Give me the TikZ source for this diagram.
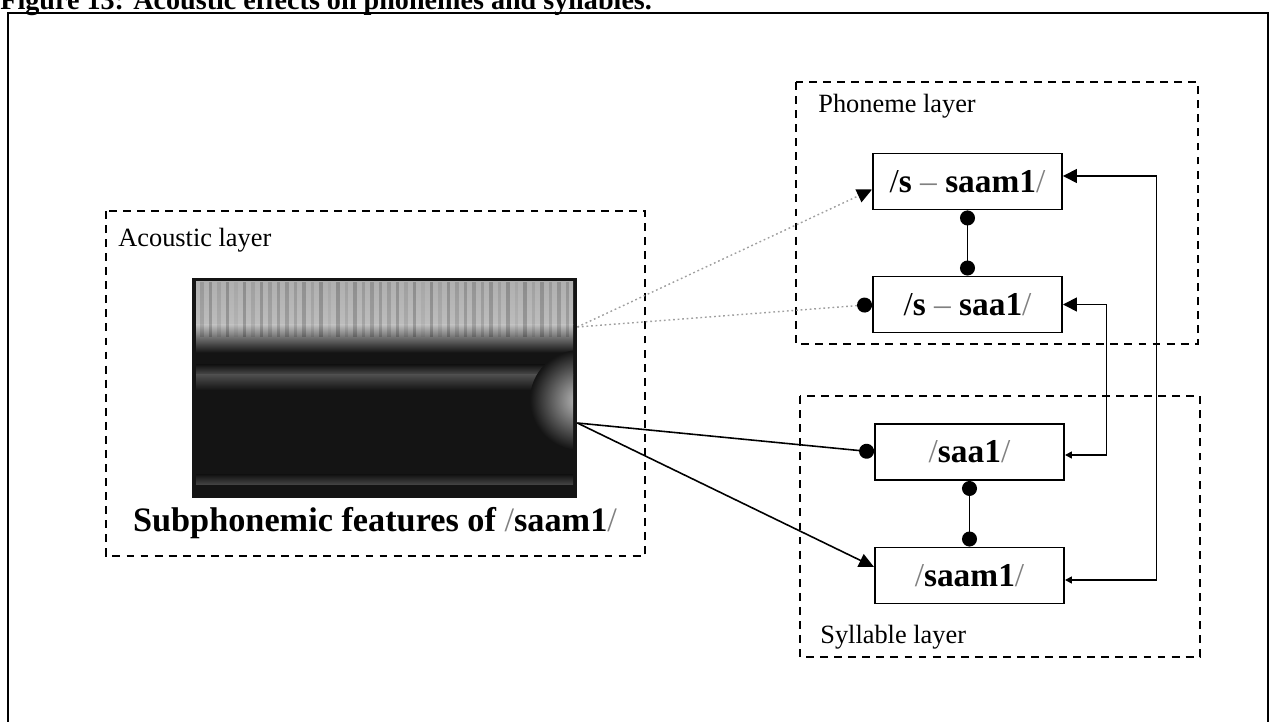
\documentclass[tikz,border=0pt]{standalone}
\usepackage{fontspec}
\setmainfont{Liberation Serif}
\usetikzlibrary{arrows.meta,positioning}
% grey slash and dash used in the phonetic labels
\newcommand{\slsh}{\textcolor{black!50}{\mdseries/}}
\newcommand{\graydash}{\textcolor{black!50}{\mdseries --}}

\begin{document}
\begin{tikzpicture}[
    unit/.style={draw, line width=1.1pt, minimum width=3.78cm, minimum height=1.12cm,
        inner sep=0pt, font=\fontsize{19}{22}\selectfont\bfseries},
    layer/.style={draw, line width=0.9pt, dash pattern=on 4.5pt off 3.5pt},
    layerlabel/.style={anchor=west, inner sep=0pt, font=\fontsize{15}{18}\selectfont},
    link/.style={line width=0.9pt},
    dotlink/.style={gray!75, line width=0.8pt, dash pattern=on 1pt off 1.6pt},
    bullets/.style={{Circle[length=3mm]}-{Circle[length=3mm]}}
]
    \clip (0,0) rectangle (25.48,-14.44);

    % title line, cut at the top
    \node[anchor=base west, inner sep=0pt, font=\fontsize{16}{19}\selectfont\bfseries] (title)
        at (0,-0.2) {Figure 13: Acoustic effects on phonemes and syllables.};

    % outer frame
    \draw[line width=0.8pt] (0.16,-15) -- (0.16,-0.26) -- (25.36,-0.26) -- (25.36,-15);

    % Acoustic layer
    \draw[layer] (2.12,-4.22) rectangle (12.9,-11.12);
    \node[layerlabel] (aclab) at (2.36,-4.8) {Acoustic layer};

    % spectrogram
    \node[fill=black!92, minimum width=7.7cm, minimum height=4.4cm, inner sep=0pt] (spec) at (7.69,-7.76) {};
    \begin{scope}
        \clip (3.92,-5.64) rectangle (11.46,-9.88);
        \shade[top color=gray!62, bottom color=gray!52] (3.92,-5.64) rectangle (11.46,-6.5);
        \shade[top color=gray!52, bottom color=black!92] (3.92,-6.5) rectangle (11.46,-7.05);
        \shade[top color=black!92, bottom color=black!70] (3.92,-7.3) rectangle (11.46,-7.5);
        \shade[top color=black!70, bottom color=black!92] (3.92,-7.5) rectangle (11.46,-7.8);
        \shade[top color=black!92, bottom color=black!72] (3.92,-9.5) rectangle (11.46,-9.7);
        \shade[inner color=gray!50, outer color=black!92] (11.6,-8.0) ellipse (1.0cm and 1.0cm);
        \foreach \x in {4.0,4.17,...,11.4}{
            \pgfmathsetmacro{\op}{0.05+0.15*abs(sin(\x*577))}
            \fill[black, opacity=\op] (\x,-5.64) rectangle ++(0.07,-1.1);
        }
    \end{scope}
    \node[font=\fontsize{19.5}{22}\selectfont\bfseries] (cap) at (7.5,-10.46)
        {Subphonemic features of \slsh saam1\slsh};

    % Phoneme layer
    \draw[layer] (15.92,-1.64) rectangle (23.96,-6.88);
    \node[layerlabel] (phlab) at (16.36,-2.12) {Phoneme layer};
    \node[unit] (ps1) at (19.35,-3.63) {{\mdseries/}s \graydash{} saam1\slsh};
    \node[unit] (ps2) at (19.35,-6.09) {{\mdseries/}s \graydash{} saa1\slsh};

    % Syllable layer
    \draw[layer] (16.0,-7.92) rectangle (24.0,-13.14);
    \node[layerlabel] (sylab) at (16.4,-12.74) {Syllable layer};
    \node[unit] (sy1) at (19.39,-9.04) {\slsh saa1\slsh};
    \node[unit] (sy2) at (19.39,-11.51) {\slsh saam1\slsh};

    % links inside the layers
    \draw[link, bullets] (ps1) -- (ps2);
    \draw[link, bullets] (sy1) -- (sy2);

    % links from the spectrogram
    \coordinate (upsrc) at ([yshift=1.22cm]spec.east);
    \coordinate (dnsrc) at ([yshift=-0.7cm]spec.east);
    \draw[dotlink, -{Triangle[length=3mm, width=2.8mm, black]}] (upsrc) -- ([yshift=-0.16cm]ps1.west);
    \draw[dotlink, -{Circle[length=3mm, black]}] (upsrc) -- (ps2.west);
    \draw[link, -{Circle[length=3mm]}] (dnsrc) -- (sy1.west);
    \draw[link, -{Triangle[length=3mm, width=2.8mm]}] (dnsrc) -- ([yshift=0.17cm]sy2.west);

    % links on the right
    \draw[link, {Triangle[length=1.4mm, width=1.4mm]}-{Triangle[length=2.8mm, width=2.8mm]}]
        ([yshift=-0.09cm]sy2.east) -- ++(1.83,0) |- ([yshift=0.11cm]ps1.east);
    \draw[link, {Triangle[length=1.4mm, width=1.4mm]}-{Triangle[length=2.8mm, width=2.8mm]}]
        ([yshift=-0.06cm]sy1.east) -- ++(0.83,0) |- (ps2.east);
\end{tikzpicture}
\end{document}
